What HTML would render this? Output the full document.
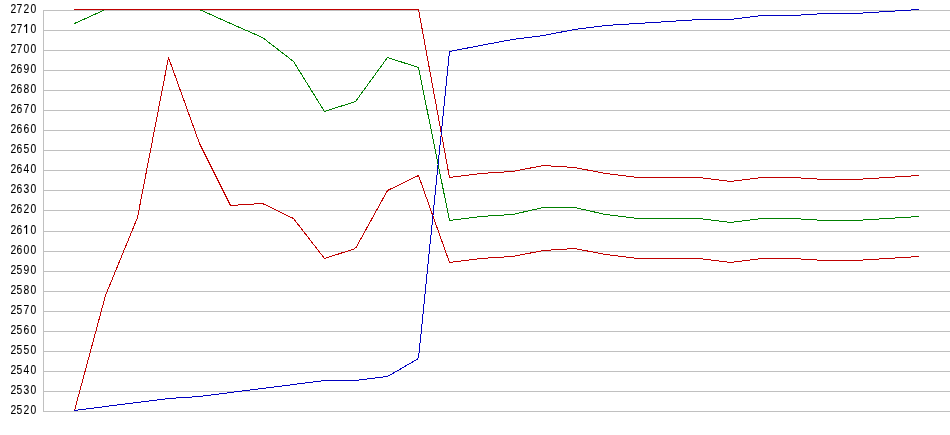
<!DOCTYPE html>
<html><head><meta charset="utf-8">
<style>
html,body{margin:0;padding:0;background:#fff;}
body{width:950px;height:435px;position:relative;overflow:hidden;font-family:"Liberation Sans",sans-serif;}
.lb{position:absolute;left:0;width:37px;text-align:right;font-size:12px;line-height:14px;color:#000;white-space:nowrap;}
.d{display:inline-block;width:7px;text-align:center;transform:scaleX(0.86);-webkit-text-stroke:0.1px #000;}
.f{position:relative;left:1px;}
.h{color:transparent;}
svg{position:absolute;left:0;top:0;}
</style></head><body>
<div style="position:absolute;left:0;top:0;width:950px;height:435px;will-change:transform">
<div class="lb" style="top:2px"><span class="d f">2</span><span class="d">7</span><span class="d">2</span><span class="d">0</span></div>
<div class="lb" style="top:22px"><span class="d f">2</span><span class="d">7</span><span class="d">&nbsp;</span><span class="d">0</span></div>
<div class="lb" style="top:42px"><span class="d f">2</span><span class="d">7</span><span class="d">0</span><span class="d">0</span></div>
<div class="lb" style="top:62px"><span class="d f">2</span><span class="d">6</span><span class="d">9</span><span class="d">0</span></div>
<div class="lb" style="top:82px"><span class="d f">2</span><span class="d">6</span><span class="d">8</span><span class="d">0</span></div>
<div class="lb" style="top:102px"><span class="d f">2</span><span class="d">6</span><span class="d">7</span><span class="d">0</span></div>
<div class="lb" style="top:122px"><span class="d f">2</span><span class="d">6</span><span class="d">6</span><span class="d">0</span></div>
<div class="lb" style="top:142px"><span class="d f">2</span><span class="d">6</span><span class="d">5</span><span class="d">0</span></div>
<div class="lb" style="top:162px"><span class="d f">2</span><span class="d">6</span><span class="d">4</span><span class="d">0</span></div>
<div class="lb" style="top:182px"><span class="d f">2</span><span class="d">6</span><span class="d">3</span><span class="d">0</span></div>
<div class="lb" style="top:202px"><span class="d f">2</span><span class="d">6</span><span class="d">2</span><span class="d">0</span></div>
<div class="lb" style="top:223px"><span class="d f">2</span><span class="d">6</span><span class="d">&nbsp;</span><span class="d">0</span></div>
<div class="lb" style="top:243px"><span class="d f">2</span><span class="d">6</span><span class="d">0</span><span class="d">0</span></div>
<div class="lb" style="top:263px"><span class="d f">2</span><span class="d">5</span><span class="d">9</span><span class="d">0</span></div>
<div class="lb" style="top:283px"><span class="d f">2</span><span class="d">5</span><span class="d">8</span><span class="d">0</span></div>
<div class="lb" style="top:303px"><span class="d f">2</span><span class="d">5</span><span class="d">7</span><span class="d">0</span></div>
<div class="lb" style="top:323px"><span class="d f">2</span><span class="d">5</span><span class="d">6</span><span class="d">0</span></div>
<div class="lb" style="top:343px"><span class="d f">2</span><span class="d">5</span><span class="d">5</span><span class="d">0</span></div>
<div class="lb" style="top:363px"><span class="d f">2</span><span class="d">5</span><span class="d">4</span><span class="d">0</span></div>
<div class="lb" style="top:383px"><span class="d f">2</span><span class="d">5</span><span class="d">3</span><span class="d">0</span></div>
<div class="lb" style="top:403px"><span class="d f">2</span><span class="d">5</span><span class="d">2</span><span class="d">0</span></div>
</div>
<svg width="950" height="435" viewBox="0 0 950 435" shape-rendering="crispEdges">
<g stroke="#c0c0c0" stroke-width="1">
<line x1="43" y1="10.5" x2="950" y2="10.5" />
<line x1="43" y1="30.5" x2="950" y2="30.5" />
<line x1="43" y1="50.5" x2="950" y2="50.5" />
<line x1="43" y1="70.5" x2="950" y2="70.5" />
<line x1="43" y1="90.5" x2="950" y2="90.5" />
<line x1="43" y1="110.5" x2="950" y2="110.5" />
<line x1="43" y1="130.5" x2="950" y2="130.5" />
<line x1="43" y1="150.5" x2="950" y2="150.5" />
<line x1="43" y1="170.5" x2="950" y2="170.5" />
<line x1="43" y1="190.5" x2="950" y2="190.5" />
<line x1="43" y1="210.5" x2="950" y2="210.5" />
<line x1="43" y1="231.5" x2="950" y2="231.5" />
<line x1="43" y1="251.5" x2="950" y2="251.5" />
<line x1="43" y1="271.5" x2="950" y2="271.5" />
<line x1="43" y1="291.5" x2="950" y2="291.5" />
<line x1="43" y1="311.5" x2="950" y2="311.5" />
<line x1="43" y1="331.5" x2="950" y2="331.5" />
<line x1="43" y1="351.5" x2="950" y2="351.5" />
<line x1="43" y1="371.5" x2="950" y2="371.5" />
<line x1="43" y1="391.5" x2="950" y2="391.5" />
<line x1="43" y1="411.5" x2="950" y2="411.5" />
<line x1="43.5" y1="10" x2="43.5" y2="412" />
</g>
<g shape-rendering="auto"><rect x="26" y="24" width="1.15" height="9" fill="#000"/><line x1="24.2" y1="26.8" x2="26.6" y2="24.4" stroke="#000" stroke-width="1.15"/></g>
<g shape-rendering="auto"><rect x="26" y="225" width="1.15" height="9" fill="#000"/><line x1="24.2" y1="227.8" x2="26.6" y2="225.4" stroke="#000" stroke-width="1.15"/></g>

<g fill="none" stroke-width="1" stroke-linecap="square" stroke-linejoin="bevel">
<polyline stroke="#008000" points="74.5,23.5 105.5,9.5 137.5,9.5 168.5,9.5 199.5,9.5 230.5,23.5 262.5,37.5 293.5,61.5 324.5,111.5 355.5,101.5 387.5,57.5 418.5,67.5 449.5,220.5 480.5,216.5 512.5,214.5 543.5,207.5 574.5,207.5 605.5,214.5 637.5,218.5 668.5,218.5 699.5,218.5 730.5,222.5 761.5,218.5 793.5,218.5 824.5,220.5 855.5,220.5 887.5,218.5 918.5,216.5" />
<polyline stroke="#c00000" points="74.5,9.5 105.5,9.5 137.5,9.5 168.5,9.5 199.5,9.5 230.5,9.5 262.5,9.5 293.5,9.5 324.5,9.5 355.5,9.5 387.5,9.5 418.5,9.5 449.5,177.5 480.5,173.5 512.5,171.5 543.5,165.5 574.5,167.5 605.5,173.5 637.5,177.5 668.5,177.5 699.5,177.5 730.5,181.5 761.5,177.5 793.5,177.5 824.5,179.5 855.5,179.5 887.5,177.5 918.5,175.5" />
<polyline stroke="#c00000" points="74.5,410.5 105.5,295.5 137.5,217.5 168.5,57.5 199.5,143.5 230.5,205.5 262.5,203.5 293.5,218.5 324.5,258.5 355.5,248.5 387.5,190.5 418.5,175.5 449.5,262.5 480.5,258.5 512.5,256.5 543.5,250.5 574.5,248.5 605.5,254.5 637.5,258.5 668.5,258.5 699.5,258.5 730.5,262.5 761.5,258.5 793.5,258.5 824.5,260.5 855.5,260.5 887.5,258.5 918.5,256.5" />
<polyline stroke="#0000c0" points="74.5,410.5 105.5,406.5 137.5,402.5 168.5,398.5 199.5,396.5 230.5,392.5 262.5,388.5 293.5,384.5 324.5,380.5 355.5,380.5 387.5,376.5 418.5,358.5 449.5,51.5 480.5,45.5 512.5,39.5 543.5,35.5 574.5,29.5 605.5,25.5 637.5,23.5 668.5,21.5 699.5,19.5 730.5,19.5 761.5,15.5 793.5,15.5 824.5,13.5 855.5,13.5 887.5,11.5 918.5,9.5" />
</g>
</svg>
</body></html>
